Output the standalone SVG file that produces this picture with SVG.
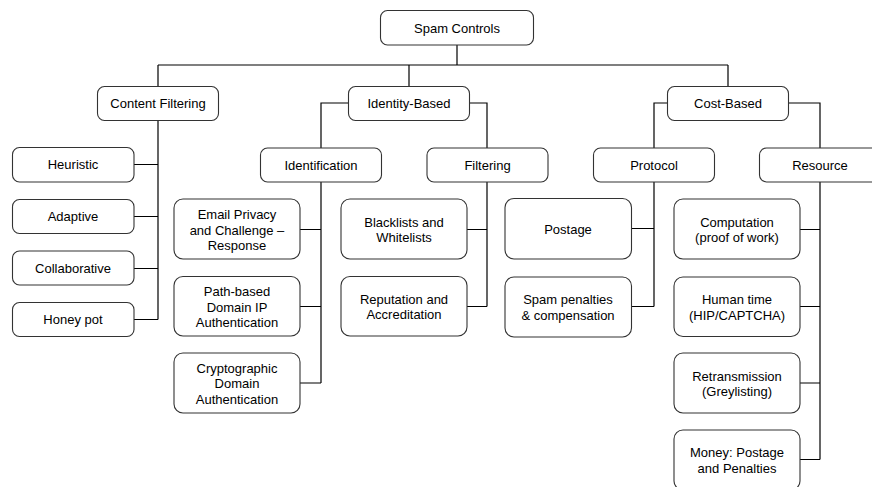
<svg xmlns="http://www.w3.org/2000/svg" width="872" height="487" viewBox="0 0 872 487">
  <style>
    .box { fill: #ffffff; stroke: #333333; stroke-width: 1.1; }
    .lbl { font-family: "Liberation Sans", Arial, sans-serif; font-size: 13px; fill: #000000; text-anchor: middle; }
    .wire { fill: none; stroke: #000000; stroke-width: 1.2; }
  </style>
  <rect width="872" height="487" fill="#ffffff"/>

  <!-- connectors -->
  <g id="connectors" class="wire">
    <!-- root to the three branches -->
    <path d="M457,45 V65 M158,65 H728 M158,65 V86 M409,65 V86 M728,65 V86"/>
    <!-- Content Filtering spine -->
    <path d="M158,120 V319.5 M134,164.5 H158 M134,216.5 H158 M134,268.5 H158 M134,319.5 H158"/>
    <!-- Identity-Based split -->
    <path d="M348,103 H321 V148 M470,103 H487 V148"/>
    <!-- Identification children -->
    <path d="M321,182 V383 M300,229.5 H321 M300,306.5 H321 M300,383 H321"/>
    <!-- Filtering children -->
    <path d="M487,182 V306.5 M467,229.5 H487 M467,306.5 H487"/>
    <!-- Cost-Based split -->
    <path d="M667,103 H654 V148 M788,103 H820 V148"/>
    <!-- Protocol children -->
    <path d="M654,182 V306.5 M632,228.5 H654 M632,306.5 H654"/>
    <!-- Resource children -->
    <path d="M820,182 V459.5 M800,229.5 H820 M800,306.5 H820 M800,383 H820 M800,459.5 H820"/>
  </g>

  <!-- level 0 -->
  <g id="spam-controls">
    <rect class="box" x="380.5" y="10.5" width="153" height="34.5" rx="7"/>
    <text class="lbl" x="457" y="32.5">Spam Controls</text>
  </g>

  <!-- level 1 -->
  <g id="content-filtering">
    <rect class="box" x="97.5" y="86.5" width="121" height="34" rx="7"/>
    <text class="lbl" x="158" y="108">Content Filtering</text>
  </g>
  <g id="identity-based">
    <rect class="box" x="348.5" y="86.5" width="121" height="34" rx="7"/>
    <text class="lbl" x="409" y="108">Identity-Based</text>
  </g>
  <g id="cost-based">
    <rect class="box" x="667.5" y="86.5" width="121" height="34" rx="7"/>
    <text class="lbl" x="728" y="108">Cost-Based</text>
  </g>

  <!-- content filtering leaves -->
  <g id="heuristic">
    <rect class="box" x="12.5" y="147.5" width="121.5" height="34.5" rx="7"/>
    <text class="lbl" x="73" y="169">Heuristic</text>
  </g>
  <g id="adaptive">
    <rect class="box" x="12.5" y="199.5" width="121.5" height="34" rx="7"/>
    <text class="lbl" x="73" y="221">Adaptive</text>
  </g>
  <g id="collaborative">
    <rect class="box" x="12.5" y="251" width="121.5" height="34" rx="7"/>
    <text class="lbl" x="73" y="272.5">Collaborative</text>
  </g>
  <g id="honey-pot">
    <rect class="box" x="12.5" y="302.5" width="121.5" height="34" rx="7"/>
    <text class="lbl" x="73" y="324">Honey pot</text>
  </g>

  <!-- level 2 -->
  <g id="identification">
    <rect class="box" x="260.5" y="148" width="121" height="34" rx="7"/>
    <text class="lbl" x="321" y="169.5">Identification</text>
  </g>
  <g id="filtering">
    <rect class="box" x="427" y="148" width="121" height="34" rx="7"/>
    <text class="lbl" x="487.5" y="169.5">Filtering</text>
  </g>
  <g id="protocol">
    <rect class="box" x="593.5" y="148" width="121" height="34" rx="7"/>
    <text class="lbl" x="654" y="169.5">Protocol</text>
  </g>
  <g id="resource">
    <rect class="box" x="759.5" y="148" width="121" height="34" rx="7"/>
    <text class="lbl" x="820" y="169.5">Resource</text>
  </g>

  <!-- identification leaves -->
  <g id="email-privacy">
    <rect class="box" x="174" y="199" width="126" height="60" rx="9"/>
    <text class="lbl" x="237" y="219">Email Privacy</text>
    <text class="lbl" x="237" y="234.5">and Challenge –</text>
    <text class="lbl" x="237" y="250">Response</text>
  </g>
  <g id="path-based">
    <rect class="box" x="174" y="276.5" width="126" height="59.5" rx="9"/>
    <text class="lbl" x="237" y="296">Path-based</text>
    <text class="lbl" x="237" y="311.5">Domain IP</text>
    <text class="lbl" x="237" y="327">Authentication</text>
  </g>
  <g id="cryptographic">
    <rect class="box" x="174" y="353" width="126" height="60" rx="9"/>
    <text class="lbl" x="237" y="372.5">Cryptographic</text>
    <text class="lbl" x="237" y="388">Domain</text>
    <text class="lbl" x="237" y="403.5">Authentication</text>
  </g>

  <!-- filtering leaves -->
  <g id="blacklists">
    <rect class="box" x="341" y="199" width="126" height="60" rx="9"/>
    <text class="lbl" x="404" y="226.5">Blacklists and</text>
    <text class="lbl" x="404" y="242">Whitelists</text>
  </g>
  <g id="reputation">
    <rect class="box" x="341" y="276.5" width="126" height="59.5" rx="9"/>
    <text class="lbl" x="404" y="303.5">Reputation and</text>
    <text class="lbl" x="404" y="319">Accreditation</text>
  </g>

  <!-- protocol leaves -->
  <g id="postage">
    <rect class="box" x="505" y="198.5" width="126.5" height="60.5" rx="9"/>
    <text class="lbl" x="568" y="234">Postage</text>
  </g>
  <g id="spam-penalties">
    <rect class="box" x="505" y="277" width="126.5" height="60" rx="9"/>
    <text class="lbl" x="568" y="304">Spam penalties</text>
    <text class="lbl" x="568" y="319.5">&amp; compensation</text>
  </g>

  <!-- resource leaves -->
  <g id="computation">
    <rect class="box" x="674" y="199" width="126" height="60" rx="9"/>
    <text class="lbl" x="737" y="226.5">Computation</text>
    <text class="lbl" x="737" y="242">(proof of work)</text>
  </g>
  <g id="human-time">
    <rect class="box" x="674" y="277" width="126" height="59.5" rx="9"/>
    <text class="lbl" x="737" y="304">Human time</text>
    <text class="lbl" x="737" y="319.5">(HIP/CAPTCHA)</text>
  </g>
  <g id="retransmission">
    <rect class="box" x="674" y="353" width="126" height="60" rx="9"/>
    <text class="lbl" x="737" y="380.5">Retransmission</text>
    <text class="lbl" x="737" y="396">(Greylisting)</text>
  </g>
  <g id="money">
    <rect class="box" x="674" y="430" width="126" height="60" rx="9"/>
    <text class="lbl" x="737" y="457">Money: Postage</text>
    <text class="lbl" x="737" y="472.5">and Penalties</text>
  </g>
</svg>
